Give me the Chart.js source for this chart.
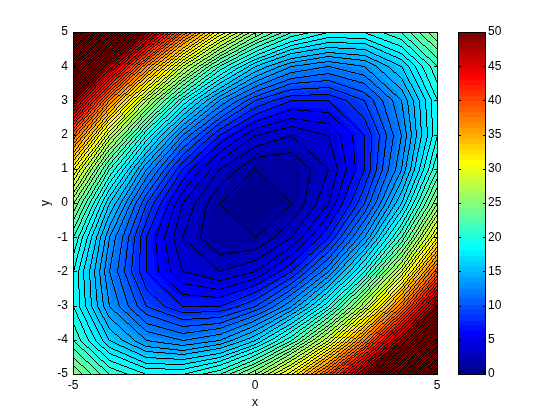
<!DOCTYPE html>
<html>
<head>
<meta charset="utf-8">
<style>
html,body{margin:0;padding:0;background:#fff;width:560px;height:420px;overflow:hidden}
canvas{position:absolute;top:0}
#main{left:0}
#bar{left:440px}
</style>
<script src="https://cdn.jsdelivr.net/npm/chart.js@4"></script>
</head>
<body>
<canvas id="main" width="560" height="420"></canvas>
<canvas id="bar" width="120" height="420"></canvas>
<script>
const xValues = [-5,-4,-3,-2,-1,0,1,2,3,4,5];
const yValues = [5,4,3,2,1,0,-1,-2,-3,-4,-5];
const row5  = [75,61,49,39,31,25,21,19,19,21,25];
const row4  = [61,48,37,28,21,16,13,12,13,16,21];
const row3  = [49,37,27,19,13, 9, 7, 7, 9,13,19];
const row2  = [39,28,19,12, 7, 4, 3, 4, 7,12,19];
const row1  = [31,21,13, 7, 3, 1, 1, 3, 7,13,21];
const row0  = [25,16, 9, 4, 1, 0, 1, 4, 9,16,25];
const rowM1 = [21,13, 7, 3, 1, 1, 3, 7,13,21,31];
const rowM2 = [19,12, 7, 4, 3, 4, 7,12,19,28,39];
const rowM3 = [19,13, 9, 7, 7, 9,13,19,27,37,49];
const rowM4 = [21,16,13,12,13,16,21,28,37,48,61];
const rowM5 = [25,21,19,19,21,25,31,39,49,61,75];
const grid = [row5,row4,row3,row2,row1,row0,rowM1,rowM2,rowM3,rowM4,rowM5];
const xTicks = [-5,0,5];
const yTicks = [-5,-4,-3,-2,-1,0,1,2,3,4,5];
const barTicks = [0,5,10,15,20,25,30,35,40,45,50];
const colorMin = 0, colorMax = 50, colorSteps = 64;
const FONT = {family:'"Liberation Sans", Arial, sans-serif', size:12};

function jet(i){ // MATLAB jet(64), entry i = 0..63, as [r,g,b] 0-255
  const c = t => Math.max(0, Math.min(1, t));
  const p = (i + 1) / 16;
  const r = c(Math.min(p - 1.5, 4.5 - p));
  const g = c(Math.min(p - 0.5, 3.5 - p));
  const b = c(Math.min(p + 0.5, 2.5 - p));
  return [Math.round(r*255), Math.round(g*255), Math.round(b*255)];
}
const palette = [];
for (let i = 0; i < colorSteps; i++) palette.push(jet(i));

// Contour segments of the grid for one level (marching squares)
function contourSegments(level){
  const pts = [];
  for (let r = 0; r < yValues.length - 1; r++){
    for (let c = 0; c < xValues.length - 1; c++){
      const corners = [[c,r],[c+1,r],[c+1,r+1],[c,r+1]].map(([a,b]) => ({x:xValues[a], y:yValues[b], v:grid[b][a]}));
      const cross = [];
      for (let k = 0; k < 4; k++){
        const A = corners[k], B = corners[(k+1)%4];
        if ((A.v >= level) !== (B.v >= level)){
          const t = (level - A.v) / (B.v - A.v);
          cross.push({x:A.x + t*(B.x-A.x), y:A.y + t*(B.y-A.y)});
        }
      }
      for (let k = 0; k + 1 < cross.length; k += 2) pts.push(cross[k], cross[k+1]);
    }
  }
  return pts;
}
const lineDatasets = [];
for (let level = 1; level < 75; level++){
  lineDatasets.push({label:'level '+level, data:contourSegments(level), showLine:false, pointRadius:0, borderColor:'#000', backgroundColor:'#000'});
}

function sample(xv, yv){
  let c = Math.min(xValues.length-2, Math.max(0, xValues.findIndex((v,i)=> i<xValues.length-1 && xv <= xValues[i+1])));
  let r = Math.min(yValues.length-2, Math.max(0, yValues.findIndex((v,i)=> i<yValues.length-1 && yv >= yValues[i+1])));
  const tx = (xv - xValues[c])/(xValues[c+1]-xValues[c]);
  const ty = (yv - yValues[r])/(yValues[r+1]-yValues[r]);
  const a = grid[r][c]*(1-tx)+grid[r][c+1]*tx;
  const b = grid[r+1][c]*(1-tx)+grid[r+1][c+1]*tx;
  return a*(1-ty)+b*ty;
}

function bresenham(ctx, x0, y0, x1, y1){
  x0=Math.round(x0); y0=Math.round(y0); x1=Math.round(x1); y1=Math.round(y1);
  const dx=Math.abs(x1-x0), dy=-Math.abs(y1-y0), sx=x0<x1?1:-1, sy=y0<y1?1:-1;
  let err=dx+dy;
  for(;;){
    ctx.fillRect(x0,y0,1,1);
    if(x0===x1&&y0===y1)break;
    const e=2*err;
    if(e>=dy){err+=dy;x0+=sx;}
    if(e<=dx){err+=dx;y0+=sy;}
  }
}

function drawFrame(ctx, a){
  ctx.fillStyle='#000';
  ctx.fillRect(a.left,a.top,a.right-a.left+1,1);
  ctx.fillRect(a.left,a.bottom,a.right-a.left+1,1);
  ctx.fillRect(a.left,a.top,1,a.bottom-a.top+1);
  ctx.fillRect(a.right,a.top,1,a.bottom-a.top+1);
}

const contourPlugin = {
  id:'contour',
  beforeDatasetsDraw(chart){
    const {ctx, chartArea:a, scales:{x,y}} = chart;
    const L=Math.round(a.left), T=Math.round(a.top), W=Math.round(a.right)-L, H=Math.round(a.bottom)-T;
    const img = ctx.createImageData(W,H);
    for(let j=0;j<H;j++){
      const yv=y.getValueForPixel(T+j+0.5);
      for(let i=0;i<W;i++){
        const xv=x.getValueForPixel(L+i+0.5);
        const z=sample(xv,yv);
        const idx=Math.max(0,Math.min(colorSteps-1,Math.floor((z-colorMin)/(colorMax-colorMin)*colorSteps)));
        const p=palette[idx], o=(j*W+i)*4;
        img.data[o]=p[0];img.data[o+1]=p[1];img.data[o+2]=p[2];img.data[o+3]=255;
      }
    }
    ctx.putImageData(img,L,T);
  },
  afterDatasetsDraw(chart){
    const {ctx, chartArea:a, scales:{x,y}} = chart;
    ctx.save();
    ctx.fillStyle='#000';
    chart.data.datasets.forEach(ds=>{
      const d=ds.data;
      for(let k=0;k+1<d.length;k+=2){
        bresenham(ctx,x.getPixelForValue(d[k].x),y.getPixelForValue(d[k].y),x.getPixelForValue(d[k+1].x),y.getPixelForValue(d[k+1].y));
      }
    });
    x.ticks.forEach(t=>{
      const px=Math.round(x.getPixelForValue(t.value));
      ctx.fillRect(px,a.top,1,4); ctx.fillRect(px,a.bottom-3,1,4);
    });
    y.ticks.forEach(t=>{
      const py=Math.round(y.getPixelForValue(t.value));
      ctx.fillRect(a.left,py,4,1); ctx.fillRect(a.right-3,py,4,1);
    });
    drawFrame(ctx,a);
    ctx.restore();
  }
};

new Chart(document.getElementById('main'),{
  type:'scatter',
  data:{datasets:lineDatasets},
  plugins:[contourPlugin],
  options:{
    responsive:false, animation:false, events:[],
    layout:{padding:{left:38,top:32,right:123,bottom:0}},
    plugins:{legend:{display:false},tooltip:{enabled:false}},
    scales:{
      x:{type:'linear',min:-5,max:5,
        afterBuildTicks(s){s.ticks=xTicks.map(v=>({value:v}));},
        afterFit(s){s.height=46;s.paddingRight=0;s.paddingLeft=0;},
        grid:{display:false,drawTicks:false},border:{display:false},
        ticks:{color:'#000',font:FONT,padding:4,maxRotation:0,autoSkip:false},
        title:{display:true,text:'x',color:'#000',font:FONT,padding:{top:0,bottom:10}}},
      y:{type:'linear',min:-5,max:5,
        afterBuildTicks(s){s.ticks=yTicks.map(v=>({value:v}));},
        afterFit(s){s.width=35;},
        grid:{display:false,drawTicks:false},border:{display:false},
        ticks:{color:'#000',font:FONT,padding:5,autoSkip:false},
        title:{display:true,text:'y',color:'#000',font:FONT,padding:{top:0,bottom:0}}}
    }
  }
});

const barFramePlugin = {
  id:'barFrame',
  afterDatasetsDraw(chart){
    const {ctx, chartArea:a, scales:{y}} = chart;
    ctx.save(); ctx.fillStyle='#000';
    y.ticks.forEach(t=>{
      const py=Math.round(y.getPixelForValue(t.value));
      ctx.fillRect(a.left,py,3,1); ctx.fillRect(a.right-2,py,3,1);
    });
    drawFrame(ctx,a);
    ctx.restore();
  }
};

const barStep=(colorMax-colorMin)/colorSteps;
new Chart(document.getElementById('bar'),{
  type:'bar',
  data:{labels:['colour'],datasets:palette.map((p,i)=>({
    label:'step '+i,
    data:[[colorMin+i*barStep,colorMin+(i+1)*barStep]],
    backgroundColor:`rgb(${p[0]},${p[1]},${p[2]})`,
    grouped:false, barPercentage:1, categoryPercentage:1, borderWidth:0
  }))},
  plugins:[barFramePlugin],
  options:{
    responsive:false, animation:false, events:[],
    layout:{padding:{left:18,top:32,right:0,bottom:46}},
    plugins:{legend:{display:false},tooltip:{enabled:false}},
    scales:{
      x:{display:false},
      y:{position:'right',min:colorMin,max:colorMax,
        afterBuildTicks(s){s.ticks=barTicks.map(v=>({value:v}));},
        afterFit(s){s.width=75;},
        grid:{display:false,drawTicks:false},border:{display:false},
        ticks:{color:'#000',font:FONT,padding:3,autoSkip:false}}
    }
  }
});
</script>
</body>
</html>
